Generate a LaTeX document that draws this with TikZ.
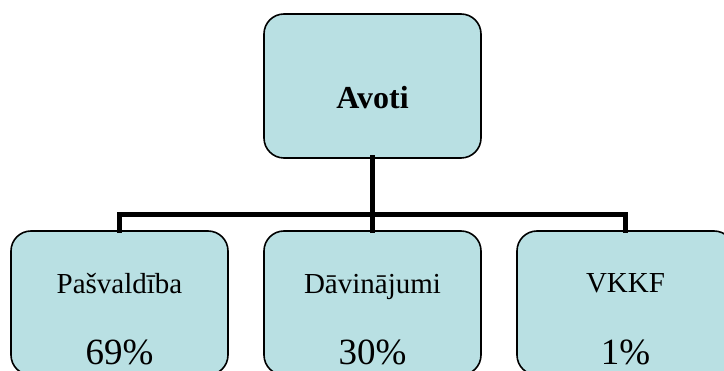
\documentclass[tikz,border=0pt]{standalone}
\usepackage{fontspec}
\setmainfont{Liberation Serif}
\definecolor{boxfill}{RGB}{185,224,227}
\begin{document}
\begin{tikzpicture}[x=1pt,y=-1pt,
  boxnode/.style={draw=black,line width=1.6pt,fill=boxfill,rounded corners=20pt,
    minimum width=217pt,minimum height=144pt,inner sep=0pt,outer sep=0pt},
  conn/.style={line width=5pt,line join=miter,line cap=rect},
  lbl/.style={anchor=base,inner sep=0pt,font=\fontsize{29}{34}\selectfont},
  pct/.style={anchor=base,inner sep=0pt,font=\fontsize{37}{42}\selectfont},
  ttl/.style={anchor=base,inner sep=0pt,font=\fontsize{32}{38}\selectfont\bfseries}]
\useasboundingbox (0,0) rectangle (724,371);
\node[boxnode] (top) at (372.5,86) {};
\node[boxnode] (left) at (119.5,303) {};
\node[boxnode] (mid) at (372.5,303) {};
\node[boxnode] (right) at (625.5,303) {};
\coordinate (j) at (372.5,215);
\draw[conn] (top.south) -- (j);
\draw[conn] (j) -| (left.north);
\draw[conn] (j) -| (right.north);
\draw[conn] (j) -- (mid.north);
\node[ttl] (t0) at (372.5,109) {Avoti};
\node[lbl] (t1) at (119.5,294) {Pašvaldība};
\node[pct] (p1) at (119.5,365) {69\%};
\node[lbl] (t2) at (372.5,294) {Dāvinājumi};
\node[pct] (p2) at (372.5,365) {30\%};
\node[lbl] (t3) at (625.5,293) {VKKF};
\node[pct] (p3) at (625.5,365) {1\%};
\end{tikzpicture}
\end{document}
